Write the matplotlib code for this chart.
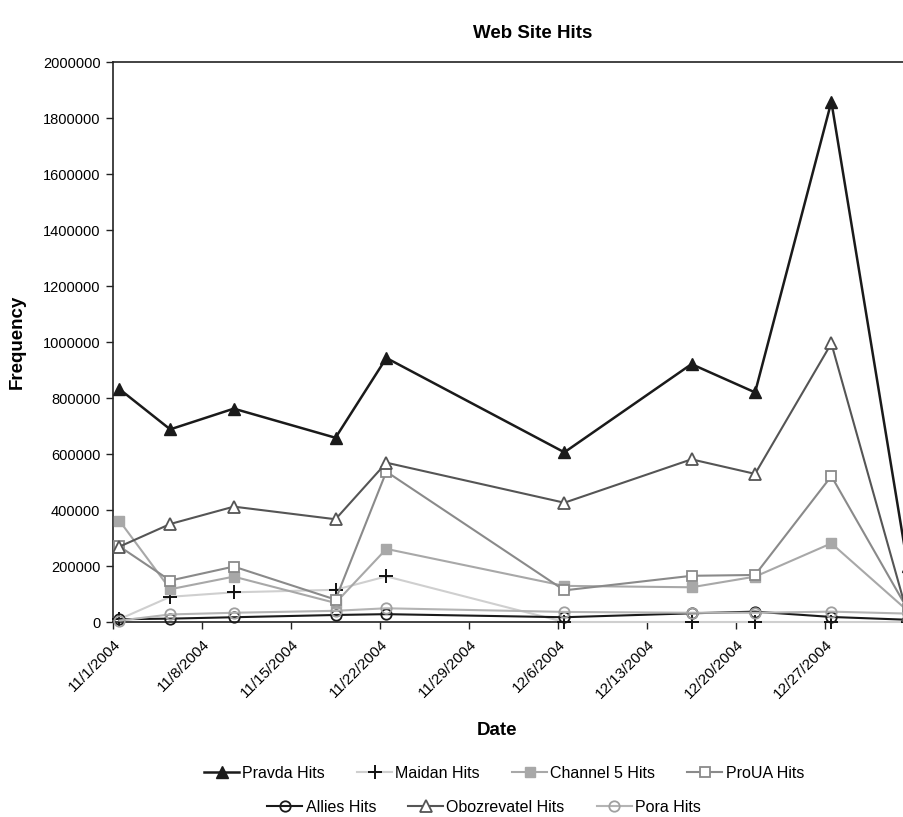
import matplotlib
matplotlib.use('Agg')
from matplotlib import pyplot as plt
import pandas as pd

plt.rcParams['font.family'] = ['Liberation Sans', 'DejaVu Sans']

# sample dates and hit counts
dates = pd.to_datetime(['2004-11-01', '2004-11-05', '2004-11-10', '2004-11-18', '2004-11-22',
                        '2004-12-06', '2004-12-16', '2004-12-21', '2004-12-27', '2005-01-02'])
pravda = [832000, 688000, 762000, 658000, 943000, 606000, 921000, 820000, 1858000, 200000]
maidan = [10000, 90000, 106000, 115000, 163000, 0, 0, 0, 0, 0]
channel5 = [362000, 117000, 162000, 68000, 261000, 129000, 124000, 162000, 281000, 40000]
proua = [270000, 148000, 198000, 80000, 537000, 113000, 165000, 168000, 521000, 45000]
allies = [10000, 12000, 17000, 25000, 28000, 17000, 31000, 37000, 18000, 8000]
obozrevatel = [269000, 350000, 412000, 367000, 569000, 426000, 581000, 529000, 995000, 25000]
pora = [5000, 27000, 33000, 40000, 49000, 36000, 33000, 33000, 37000, 30000]

tick_dates = pd.date_range('2004-11-01', '2004-12-27', freq='7D')
tick_labels = [f"{d.month}/{d.day}/{d.year}" for d in tick_dates]
y_ticks = list(range(0, 2000001, 200000))

fig = plt.figure(figsize=(9.04, 8.17), dpi=100)
# plot area runs past the right edge of the picture, like the cropped original
ax = fig.add_axes([113/904, 1 - 622/817, (914 - 113)/904, 560/817])

# Excel puts each day's point in the middle of the day
x = dates + pd.Timedelta(hours=12)

series = [
    ('Pravda Hits', pravda, dict(color='#1a1a1a', lw=1.8, marker='^', ms=8, mfc='#1a1a1a', mec='#1a1a1a')),
    ('Maidan Hits', maidan, dict(color='#cfcfcf', lw=1.5, marker='+', ms=10, mew=1.4, mec='#111111')),
    ('Channel 5 Hits', channel5, dict(color='#a8a8a8', lw=1.5, marker='s', ms=7.5, mfc='#a8a8a8', mec='#a8a8a8')),
    ('ProUA Hits', proua, dict(color='#8a8a8a', lw=1.5, marker='s', ms=7.5, mfc='white', mec='#8a8a8a', mew=1.3)),
    ('Allies Hits', allies, dict(color='#1a1a1a', lw=1.5, marker='o', ms=7.5, mfc='none', mec='#1a1a1a', mew=1.3)),
    ('Obozrevatel Hits', obozrevatel, dict(color='#555555', lw=1.5, marker='^', ms=8, mfc='white', mec='#555555', mew=1.3)),
    ('Pora Hits', pora, dict(color='#b4b4b4', lw=1.5, marker='o', ms=7.5, mfc='none', mec='#a0a0a0', mew=1.3)),
]

handles = {}
for name, vals, style in series:
    ln, = ax.plot(x, vals, label=name, clip_on=False, zorder=3, **style)
    handles[name] = ln

ax.set_xlim(pd.Timestamp('2004-11-01'), pd.Timestamp('2005-01-03'))
ax.set_ylim(0, 2000000)
ax.set_xticks(tick_dates)
ax.set_xticklabels(tick_labels, rotation=45, ha='right', rotation_mode='anchor', fontsize=11)
ax.set_yticks(y_ticks)
ax.set_yticklabels([str(v) for v in y_ticks], fontsize=10.5)
ax.tick_params(axis='both', direction='out', length=5, width=1, color='#222222')
ax.tick_params(axis='x', pad=6)
ax.tick_params(axis='y', pad=4)

for side in ['left', 'bottom', 'top']:
    ax.spines[side].set_linewidth(1.2)
    ax.spines[side].set_color('#222222')
ax.spines['right'].set_visible(False)

ax.set_xlabel('Date', fontsize=13.5, fontweight='bold')
ax.xaxis.set_label_coords((497 - 113)/801, -(722 - 622)/560)
ax.set_ylabel('Frequency', fontsize=13.5, fontweight='bold')
ax.yaxis.set_label_coords((26 - 113)/801, 0.5)

fig.text(533/904, 1 - 33/817, 'Web Site Hits', ha='center', va='center',
         fontsize=13.5, fontweight='bold')

row1 = ['Pravda Hits', 'Maidan Hits', 'Channel 5 Hits', 'ProUA Hits']
row2 = ['Allies Hits', 'Obozrevatel Hits', 'Pora Hits']
leg_kw = dict(frameon=False, fontsize=11.5, handlelength=2.2, handletextpad=0.2,
              columnspacing=2.0, borderaxespad=0, borderpad=0)
fig.legend([handles[n] for n in row1], row1, ncol=4, loc='center',
           bbox_to_anchor=(504/904, 1 - 773/817), **leg_kw)
fig.legend([handles[n] for n in row2], row2, ncol=3, loc='center',
           bbox_to_anchor=(484/904, 1 - 807/817), **leg_kw)

fig.savefig('out.png', dpi=100)
